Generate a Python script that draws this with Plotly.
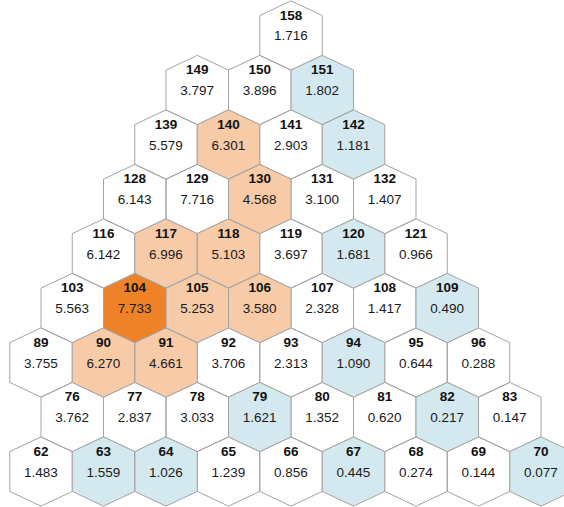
import plotly.graph_objects as go

# Hex grid data: cell id, value, row (bottom=0), column (half-hex units), highlight category
cell_ids = [62, 63, 64, 65, 66, 67, 68, 69, 70,
            76, 77, 78, 79, 80, 81, 82, 83,
            89, 90, 91, 92, 93, 94, 95, 96,
            103, 104, 105, 106, 107, 108, 109,
            116, 117, 118, 119, 120, 121,
            128, 129, 130, 131, 132,
            139, 140, 141, 142,
            149, 150, 151,
            158]
cell_values = ["1.483", "1.559", "1.026", "1.239", "0.856", "0.445", "0.274", "0.144", "0.077",
               "3.762", "2.837", "3.033", "1.621", "1.352", "0.620", "0.217", "0.147",
               "3.755", "6.270", "4.661", "3.706", "2.313", "1.090", "0.644", "0.288",
               "5.563", "7.733", "5.253", "3.580", "2.328", "1.417", "0.490",
               "6.142", "6.996", "5.103", "3.697", "1.681", "0.966",
               "6.143", "7.716", "4.568", "3.100", "1.407",
               "5.579", "6.301", "2.903", "1.181",
               "3.797", "3.896", "1.802",
               "1.716"]
cell_rows = [0]*9 + [1]*8 + [2]*8 + [3]*7 + [4]*6 + [5]*5 + [6]*4 + [7]*3 + [8]
cell_cols = ([0, 2, 4, 6, 8, 10, 12, 14, 16] +
             [1, 3, 5, 7, 9, 11, 13, 15] +
             [0, 2, 4, 6, 8, 10, 12, 14] +
             [1, 3, 5, 7, 9, 11, 13] +
             [2, 4, 6, 8, 10, 12] +
             [3, 5, 7, 9, 11] +
             [4, 6, 8, 10] +
             [5, 7, 9] +
             [8])
blue_ids = [63, 64, 67, 70, 79, 82, 94, 109, 120, 142, 151]
light_orange_ids = [90, 91, 105, 106, 117, 118, 130, 140]
dark_orange_ids = [104]

category_colors = {
    "none": "#ffffff",
    "blue": "#d3e9ef",
    "light": "#f8cba8",
    "dark": "#ef8229",
}

EDGE = 0.365   # half-length of vertical hex edge (row units)
APEX = 0.635   # distance to top/bottom apex (row units)


def category(cid):
    if cid in dark_orange_ids:
        return "dark"
    if cid in light_orange_ids:
        return "light"
    if cid in blue_ids:
        return "blue"
    return "none"


def hex_path(cx, cy):
    pts = [(cx, cy + APEX), (cx + 1, cy + EDGE), (cx + 1, cy - EDGE),
           (cx, cy - APEX), (cx - 1, cy - EDGE), (cx - 1, cy + EDGE), (cx, cy + APEX)]
    return [p[0] for p in pts], [p[1] for p in pts]


fig = go.Figure()

for cat, color in category_colors.items():
    xs, ys = [], []
    for cid, r, c in zip(cell_ids, cell_rows, cell_cols):
        if category(cid) != cat:
            continue
        hx, hy = hex_path(c, r)
        xs += hx + [None]
        ys += hy + [None]
    if not xs:
        continue
    fig.add_trace(go.Scatter(
        x=xs, y=ys, mode="lines", fill="toself", fillcolor=color,
        line=dict(color="#a3a3a3", width=1), hoverinfo="skip", showlegend=False))

fig.add_trace(go.Scatter(
    x=cell_cols, y=[r + 0.35 for r in cell_rows], mode="text",
    text=["<b>%d</b>" % i for i in cell_ids],
    textfont=dict(family="Liberation Sans, Arial, sans-serif", size=13.5, color="#111111"),
    hoverinfo="skip", showlegend=False))

fig.add_trace(go.Scatter(
    x=cell_cols, y=[r - 0.03 for r in cell_rows], mode="text",
    text=cell_values,
    textfont=dict(family="Liberation Sans, Arial, sans-serif", size=13.5, color="#1a1a1a"),
    hoverinfo="skip", showlegend=False))

fig.update_layout(
    width=564, height=507,
    margin=dict(l=0, r=0, t=0, b=0),
    paper_bgcolor="white", plot_bgcolor="white",
    xaxis=dict(range=[-1.312, 16.736], visible=False, fixedrange=True),
    yaxis=dict(range=[-0.651, 8.651], visible=False, fixedrange=True),
    showlegend=False,
)

fig.write_html("out.html", config={"displayModeBar": False},
               post_script="document.body.style.margin='0';")
